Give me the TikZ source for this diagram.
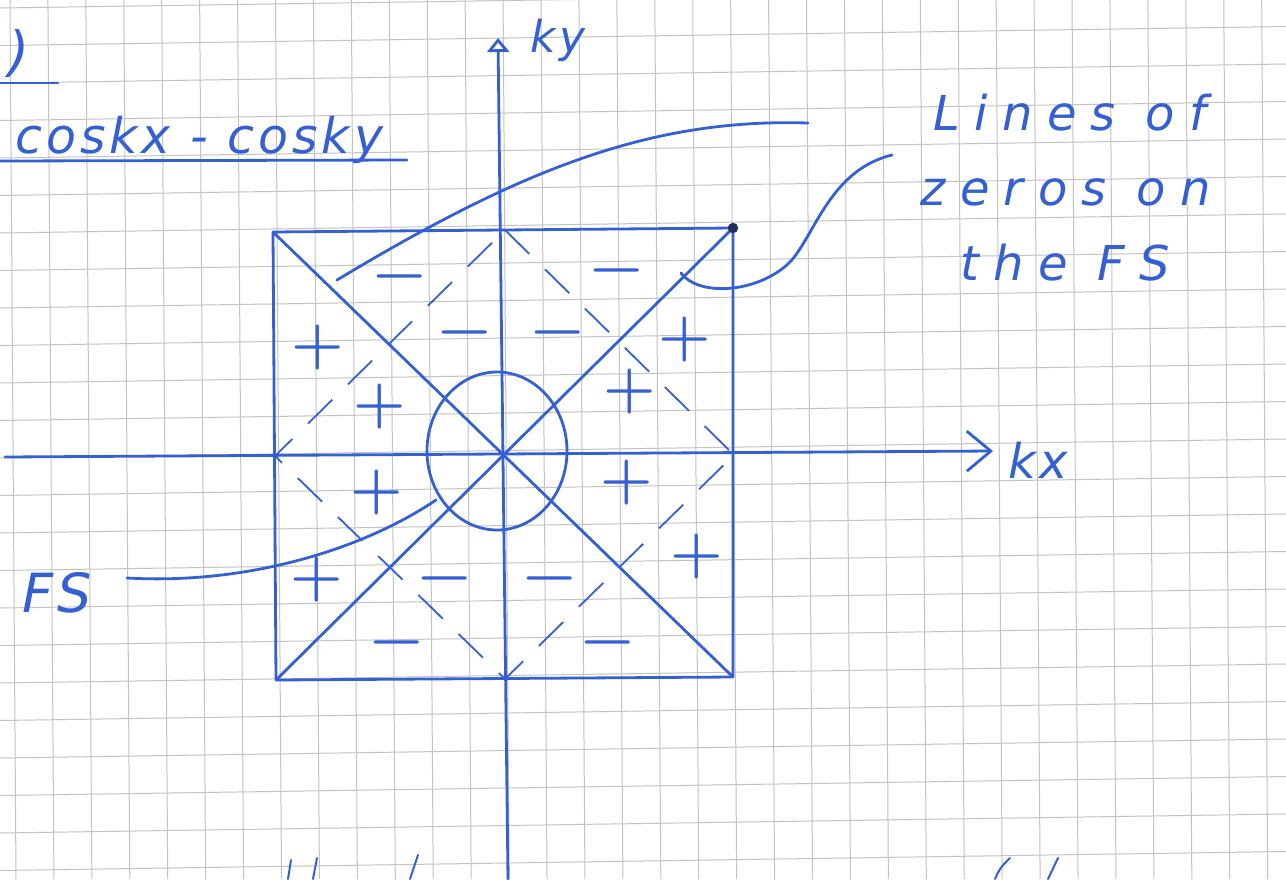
\documentclass[tikz,border=0pt]{standalone}
\usepackage{fontspec}
\newfontfamily\handfont[LetterSpace=8]{DejaVu Sans}
\usetikzlibrary{positioning,arrows.meta,calc}
\definecolor{inkblue}{RGB}{52,96,212}
\definecolor{inkdark}{RGB}{30,45,95}
\definecolor{gridgrey}{RGB}{195,195,195}

\begin{document}
\begin{tikzpicture}[
  x=0.5pt, y=-0.5pt,
  ink/.style={draw=inkblue, line width=1.4pt, line cap=round, line join=round},
  thinink/.style={draw=inkblue, line width=1pt, line cap=round},
  zeroline/.style={draw=inkblue, line width=0.9pt, dash pattern=on 17pt off 11pt},
  sign/.style={text=inkblue, inner sep=0pt, font=\bfseries\fontsize{30}{30}\selectfont},
  hand/.style={text=inkblue, inner sep=0pt},
  paper/.style={draw=gridgrey, line width=0.5pt},
]
\useasboundingbox (0,0) rectangle (1286,879);
\fill[white] (0,0) rectangle (1286,879);

% ---- squared paper ----
\foreach \k in {0,...,33}
  \draw[paper] ({10+37.93*\k},0) -- ({16+37.93*\k},879);
\foreach \k in {0,...,23}
  \draw[paper] (0,{8+37.5*\k}) -- (1286,{-11+37.5*\k});

% ---- Brillouin zone corners and edge midpoints ----
\coordinate (O)  at (505,453);
\coordinate (TL) at (273,232);
\coordinate (TR) at (733,228);
\coordinate (BL) at (276,680);
\coordinate (BR) at (733,677);
\coordinate (T)  at (505,230);
\coordinate (R)  at (734,455);
\coordinate (B)  at (505,679);
\coordinate (L)  at (275,456);

% ---- axes ----
\coordinate (xl) at (5,457);
\coordinate (xr) at (993,451);
\coordinate (yb) at (508,879);
\coordinate (yt) at (498,38);
\draw[ink, -{Straight Barb[length=12pt,width=20pt]}] (xl) -- (xr);
\draw[ink, -{Triangle[open,length=7pt,width=11pt]}] (yb) -- (yt);
\node[hand, anchor=base west, font=\handfont\itshape\fontsize{24}{24}\selectfont]
  (kx) at (1008,478) {kx};
\node[hand, anchor=base west, font=\handfont\itshape\fontsize{22}{22}\selectfont]
  (ky) at (530,52) {ky};

% ---- square, diagonals and dashed diamond ----
\draw[ink] (TL) -- (TR) -- (BR) -- (BL) -- cycle;
\draw[ink] (TL) -- (BR);
\draw[ink] (BL) -- (TR);
\draw[zeroline] (T) -- (R) -- (B) -- (L) -- cycle;
\fill[inkdark] (TR) circle (2.6pt);

% ---- Fermi surface ----
\draw[ink] (497,451) ellipse [x radius=35pt, y radius=39.5pt];

% ---- signs of the gap ----
\foreach \p [count=\i] in {(318,348),(685,340),(380,407),(630,392),
                           (377,493),(627,483),(697,557),(317,580)}
  \node[sign] (plus\i) at \p {+};
\foreach \p [count=\i] in {(400,283),(617,277),(465,339),(558,339),
                           (445,585),(550,585),(397,649),(608,649)}
  \node[sign] (minus\i) at \p {−};

% ---- labels top left ----
\node[hand, font=\handfont\itshape\fontsize{27}{27}\selectfont]
  (paren) at (19,54) {)};
\draw[ink] (0,83) -- (58,83);
\node[hand, anchor=base west, font=\handfont\itshape\fontsize{24.5}{24.5}\selectfont]
  (gap) at (15,153) {coskx - cosky};
\draw[ink] (0,161) -- (407,160);

% ---- lines of zeros ----
\node[hand, anchor=base west, align=left,
      font=\handfont\itshape\addfontfeature{LetterSpace=30}\fontsize{24}{37.5}\selectfont]
  (zeros) at (933,280)
  {Lines of\\\hspace*{-6.5pt}zeros on\\\hspace*{13.5pt}the FS};
\coordinate (za) at (337,280);
\coordinate (zb) at (808,123);
\coordinate (zc) at (681,273);
\coordinate (zd) at (892,155);
\draw[ink] (za) .. controls (520,170) and (650,118) .. (zb);
\draw[ink] (zc) .. controls (700,298) and (760,292) .. (790,262)
  .. controls (815,235) and (830,170) .. (zd);

% ---- FS pointer ----
\node[hand, anchor=base west, font=\handfont\itshape\fontsize{27}{27}\selectfont]
  (fslbl) at (22,612) {FS};
\coordinate (fsa) at (436,500);
\coordinate (fsb) at (127,578);
\draw[ink] (fsa) .. controls (365,548) and (250,585) .. (fsb);

% cut-off strokes at the bottom edge
\draw[thinink] (288,879) -- (291,860);
\draw[thinink] (313,879) -- (317,858);
\draw[thinink] (410,879) -- (418,855);
\draw[thinink] (995,879) .. controls (1000,868) .. (1010,858);
\draw[thinink] (1048,879) -- (1058,858);

\end{tikzpicture}
\end{document}
